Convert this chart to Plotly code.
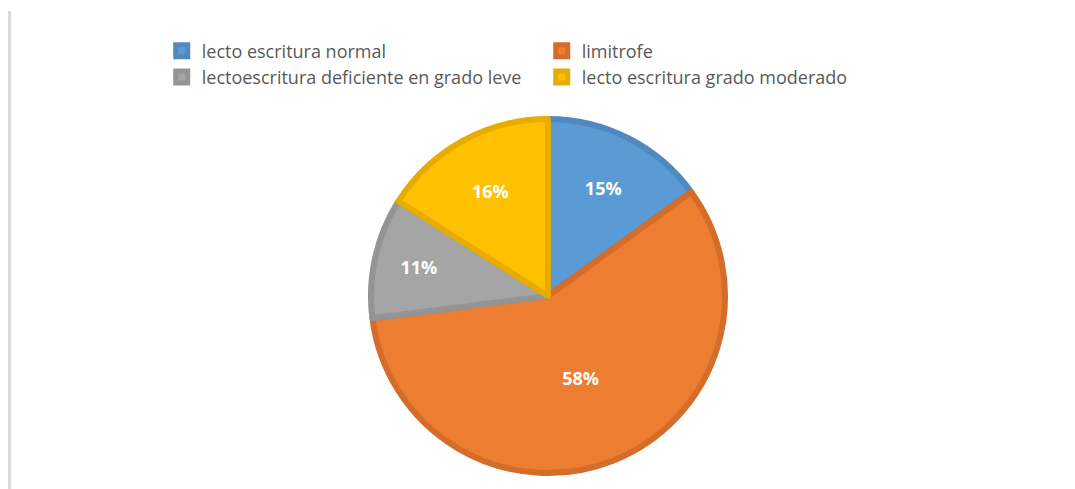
import plotly.graph_objects as go

# categories and shares (%)
categories = [
    "lecto escritura normal",
    "limitrofe",
    "lectoescritura deficiente en grado leve",
    "lecto escritura grado moderado",
]
shares = [15, 58, 11, 16]

fill_colors = ["#5B9BD5", "#ED7D31", "#A5A5A5", "#FFC000"]
edge_colors = ["#4F89C0", "#D56D2A", "#949494", "#E6AC00"]

fig = go.Figure(go.Pie(
    labels=categories,
    values=shares,
    sort=False,
    direction="clockwise",
    rotation=0,
    textinfo="percent",
    textposition="inside",
    insidetextorientation="horizontal",
    textfont=dict(family="Open Sans", size=18, color="white", weight="bold"),
    marker=dict(colors=fill_colors, line=dict(color=edge_colors, width=6)),
    domain=dict(x=[0.33, 0.6746], y=[0.049, 0.773]),
    hoverinfo="label+percent",
))

fig.update_layout(
    width=1075,
    height=489,
    margin=dict(l=0, r=0, t=0, b=0),
    paper_bgcolor="white",
    plot_bgcolor="white",
    font=dict(family="Open Sans", color="#595959"),
    showlegend=True,
    legend=dict(
        orientation="h",
        x=0.143,
        y=0.95,
        xanchor="left",
        yanchor="top",
        entrywidth=335,
        entrywidthmode="pixels",
        font=dict(size=18, color="#595959"),
    ),
    # thin grey frame edge on the left
    shapes=[dict(
        type="line", xref="paper", yref="paper",
        x0=0.0015, x1=0.0015, y0=0, y1=0.994,
        line=dict(color="#D9D9D9", width=3),
    )],
)

fig.write_html("out.html")
